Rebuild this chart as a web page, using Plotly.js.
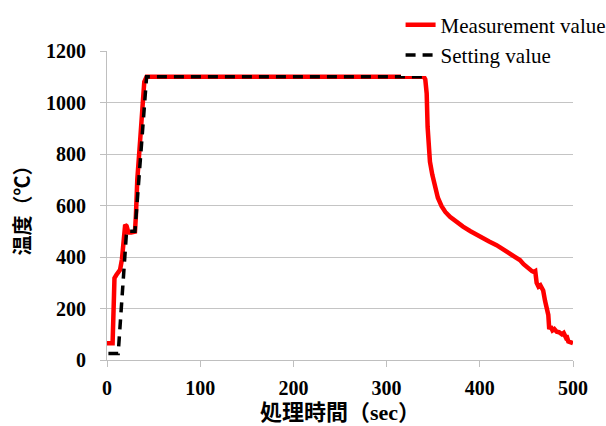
<!DOCTYPE html>
<html>
<head>
<meta charset="utf-8">
<script src="https://cdn.plot.ly/plotly-3.0.1.min.js"></script>
<style>html,body{margin:0;padding:0;background:#fff;}#chart{width:606px;height:426px;}</style>
</head>
<body>
<div id="chart"></div>
<script>
// Measurement value (time in sec, temperature in °C)
var measTime = [0, 6, 7.5, 8, 10, 14, 16, 18, 19.5, 21, 23, 26, 30, 31, 32.5, 35.5, 38, 40, 42.5,
  60, 100, 150, 200, 250, 300, 335, 340, 341.5, 343, 344, 346.5, 349, 352, 355, 359, 363, 368,
  375, 382, 390, 400, 410, 418, 426, 436, 440, 443, 447, 451, 454, 456, 458, 459.5, 461, 463,
  465, 468, 470, 472, 473.5, 474.5, 476, 478, 480, 482.5, 485, 488, 490, 492, 493, 495, 497, 500];
var measTemp = [65, 65, 250, 318, 330, 350, 390, 470, 525, 520, 495, 495, 498, 560, 700, 850, 1000, 1080, 1100,
  1100, 1099, 1100, 1099, 1100, 1099, 1100, 1100, 1090, 1035, 905, 770, 720, 672, 630, 597, 575, 556,
  535, 518, 500, 478, 460, 446, 428, 407, 398, 388, 372, 358, 350, 345, 342, 345, 300, 285,
  290, 270, 230, 195, 175, 120, 130, 115, 120, 110, 108, 100, 105, 90, 95, 72, 68, 65];

// Setting value
var setTime = [1.5, 12, 21, 30, 42.5, 340];
var setTemp = [25, 25, 500, 500, 1100, 1100];

var seriesNames = ["Measurement value", "Setting value"];
var xTicks = [0, 100, 200, 300, 400, 500];
var yTicks = [0, 200, 400, 600, 800, 1000, 1200];

var traces = [
  {x: measTime, y: measTemp, mode: "lines", name: seriesNames[0],
   line: {color: "#ff0000", width: 4.5}},
  {x: setTime, y: setTemp, mode: "lines", name: seriesNames[1],
   line: {color: "#000000", width: 3.5, dash: "10px,7px"}}
];

var serif = '"Liberation Serif", "Times New Roman", Times, serif';
var tickFont = {family: serif, size: 20, color: "#000", weight: "bold"};
var titleFont = {family: '"Liberation Serif", "Noto Sans CJK JP", serif', size: 22, color: "#000", weight: "bold"};

var layout = {
  width: 606, height: 426,
  margin: {l: 107, r: 33, t: 51, b: 66, autoexpand: false},
  paper_bgcolor: "#fff", plot_bgcolor: "#fff",
  showlegend: true,
  legend: {x: 0.63, xanchor: "left", y: 1.15, yanchor: "top",
    bgcolor: "#ffffff", borderwidth: 0,
    font: {family: serif, size: 21, color: "#000"}},
  xaxis: {range: [0, 500], tickvals: xTicks, ticks: "outside", ticklen: 6, tickcolor: "#bfbfbf",
    showgrid: false, showline: true, linecolor: "#bfbfbf", linewidth: 1, zeroline: false,
    tickfont: tickFont, ticklabelstandoff: 4,
    title: {text: "処理時間（sec）", font: titleFont, standoff: 6}},
  yaxis: {range: [0, 1200], tickvals: yTicks, ticks: "outside", ticklen: 6, tickcolor: "#bfbfbf",
    showgrid: true, gridcolor: "#c4c4c4", gridwidth: 1, showline: true, linecolor: "#bfbfbf",
    linewidth: 1, zeroline: false, tickfont: tickFont, ticklabelstandoff: 10,
    title: {text: "温度（℃）", font: {family: '"Noto Sans CJK JP", sans-serif', size: 20, color: "#000", weight: "bold"}, standoff: 10}}
};

Plotly.newPlot("chart", traces, layout, {staticPlot: true, displayModeBar: false});
</script>
</body>
</html>
